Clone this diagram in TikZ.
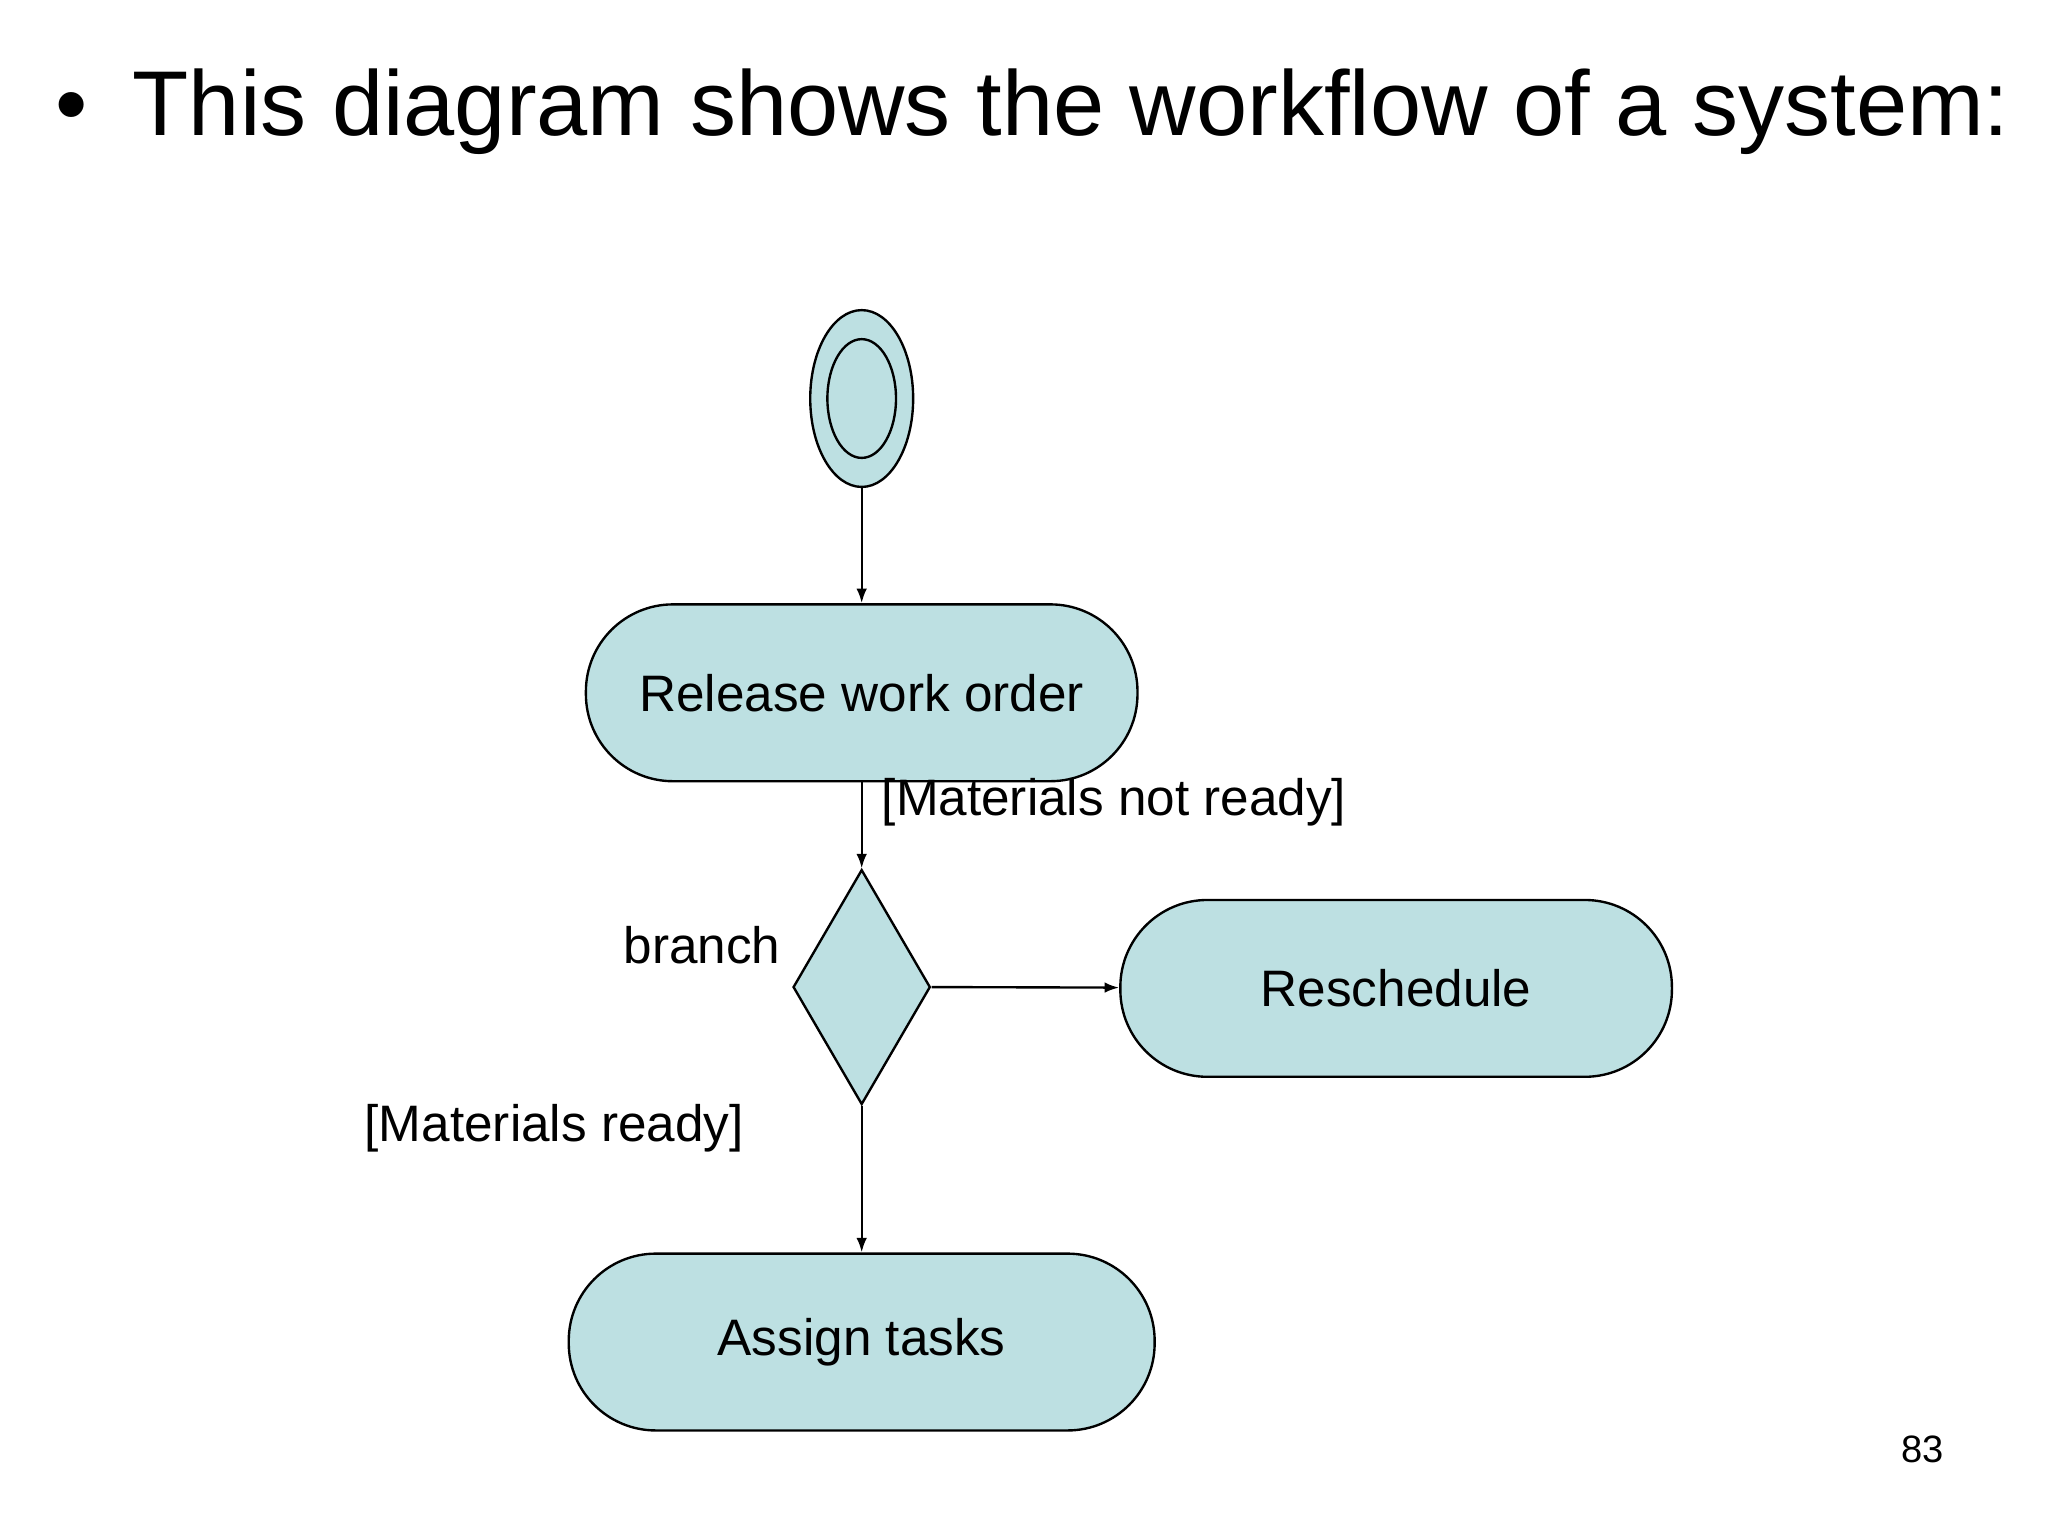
\documentclass[tikz,border=0pt]{standalone}
\usepackage{fontspec}
\setmainfont{Liberation Sans}
\usetikzlibrary{arrows.meta,shapes.geometric}
\definecolor{actfill}{HTML}{BDE0E2}
\begin{document}
\begin{tikzpicture}[x=1bp,y=-1bp,>={Latex[length=11bp,width=8bp]},
    act/.style={draw,fill=actfill,line width=1.8bp,rounded corners=66bp,
      minimum height=134bp,font=\fontsize{39}{44}\selectfont},
    lbl/.style={font=\fontsize{39}{44}\selectfont},
    flow/.style={->,line width=1.8bp}]
    %%
    \useasboundingbox (0,0) rectangle (1552,1164);
    \node[font=\fontsize{70}{80}\selectfont,anchor=base west,inner sep=0pt] (title) at (42,103)
      {\textbullet\hspace{34bp}This diagram shows the workflow of a system:};
    \node[draw,fill=actfill,ellipse,line width=1.8bp,minimum width=78bp,minimum height=134bp] (start) at (653,302) {};
    \node[draw,ellipse,line width=1.8bp,minimum width=52bp,minimum height=90bp] (startin) at (653,302) {};
    \node[act,minimum width=418bp] (release) at (653,525) {Release work order};
    \node[draw,fill=actfill,diamond,line width=1.8bp,minimum width=104bp,minimum height=178bp,
      inner sep=0pt,aspect=0.58] (branch) at (653,748) {};
    \node[act,minimum width=418bp] (resched) at (1058,749) {Reschedule};
    \node[act,minimum width=444bp] (assign) at (653,1017) {Assign tasks};
    %
    \draw[flow] (start) -- (release);
    \draw[flow] (release) -- (branch.north);
    \draw[flow] (branch.east) -- (resched);
    \draw[flow] (branch.south) -- (assign);
    %
    \node[lbl,anchor=west,inner sep=0pt] (notready) at (668,608) {[Materials not ready]};
    \node[lbl] (brlbl) at (532,716) {branch};
    \node[lbl] (ready) at (420,855) {[Materials ready]};
    \node[font=\fontsize{29}{32}\selectfont] (page) at (1457,1098) {83};
    %
\end{tikzpicture}
\end{document}
